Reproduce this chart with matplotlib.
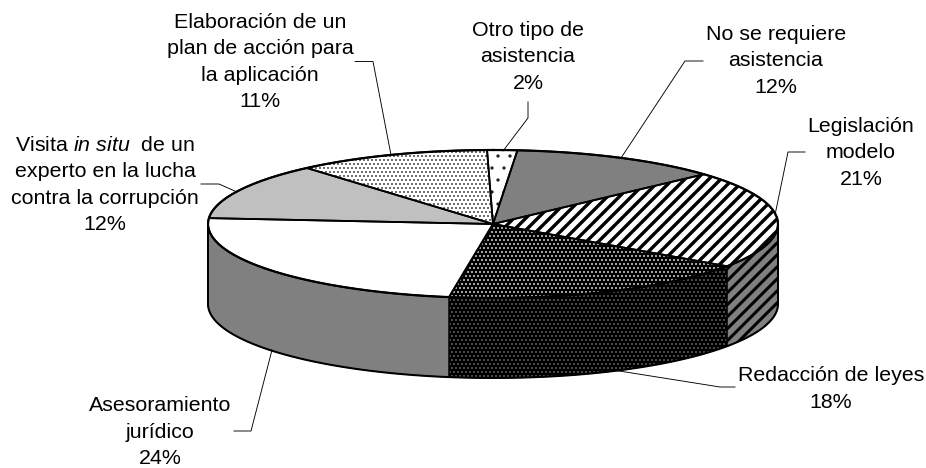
"""Tarta 3D de tipos de asistencia, dibujada a mano sobre ejes en pixeles"""

import matplotlib
matplotlib.use("Agg")
import matplotlib.pyplot as plt
import numpy as np
from matplotlib.patches import Polygon

plt.rcParams["font.family"] = ["Liberation Sans", "DejaVu Sans"]
plt.rcParams["mathtext.fontset"] = "custom"
plt.rcParams["mathtext.rm"] = "Liberation Sans"
plt.rcParams["mathtext.it"] = "Liberation Sans:italic"

# en orden horario desde arriba
labels = [
    "Otro tipo de\nasistencia\n2%",
    "No se requiere\nasistencia\n12%",
    "Legislación\nmodelo\n21%",
    "Redacción de leyes\n18%",
    "Asesoramiento\njurídico\n24%",
    "Visita $\\mathit{in\\ situ}$  de un\nexperto en la lucha\ncontra la corrupción\n12%",
    "Elaboración de un\nplan de acción para\nla aplicación\n11%",
]
# las etiquetas dan los valores redondeados
values = [1.7, 11.9, 21.4, 17.8, 23.8, 12.4, 11.0]
start_deg = -1.2

# (cara, trama, color de trama, ancho de trama)
top_styles = [
    ("white", ".", "#202020", 0.8),
    ("#808080", None, None, 1),
    ("white", "//", "black", 3.4),
    ("black", "...", "white", 0.9),
    ("white", None, None, 1),
    ("#c0c0c0", None, None, 1),
    ("white", "...", "#303030", 1.0),
]
wall_styles = {
    2: ("#808080", "//", "black", 3.0),
    3: ("black", "...", "#808080", 0.8),
    4: ("#808080", None, None, 1),
}

label_pos = [(528, 57), (776, 61), (861, 153), (831, 389), (160, 432), (105, 185), (260, 62)]
leaders = [
    [(528, 102), (528, 118), (503, 151)],
    [(703, 61), (685, 61), (621, 158)],
    [(805, 152), (788, 152), (775, 215)],
    [(735, 387), (720, 387), (613, 370)],
    [(234, 431), (251, 431), (272, 350)],
    [(201, 184), (219, 184), (237, 192)],
    [(355, 61.5), (373, 61.5), (391, 155)],
]

CX, CY, A, B, DEPTH = 493, 224, 285, 74, 80


def rim(a0, a1, dy=0):
    t = np.radians(np.linspace(a0, a1, 120))
    return np.column_stack([CX + A * np.sin(t), CY + dy - B * np.cos(t)])


def add_fill(ax, xy, style):
    face, hatch, hcolor, hwidth = style
    with plt.rc_context({"hatch.linewidth": hwidth}):
        ax.add_patch(Polygon(xy, closed=True, facecolor=face, edgecolor=hcolor or face,
                             hatch=hatch, linewidth=0))


def main():
    fig = plt.figure(figsize=(926 / 72, 468 / 72), dpi=72)
    ax = fig.add_axes([0, 0, 1, 1])
    ax.set_xlim(0, 926)
    ax.set_ylim(468, 0)
    ax.axis("off")

    edges = start_deg + np.cumsum([0] + values) * 3.6

    # pared lateral
    for i, style in wall_styles.items():
        a0, a1 = max(edges[i], 90), min(edges[i + 1], 270)
        xy = np.vstack([rim(a0, a1), rim(a1, a0, DEPTH)])
        add_fill(ax, xy, style)
        ax.plot(*np.vstack([xy, xy[:1]]).T, color="black", lw=1.0)
    ax.plot(*rim(90, 270, DEPTH).T, color="black", lw=2)
    for a in (90, 270):
        ax.plot(*np.vstack([rim(a, a)[0], rim(a, a, DEPTH)[0]]).T, color="black", lw=2)

    # cara superior
    for i, style in enumerate(top_styles):
        xy = np.vstack([[(CX, CY)], rim(edges[i], edges[i + 1])])
        add_fill(ax, xy, style)
        ax.plot(*np.vstack([xy, xy[:1]]).T, color="black", lw=1.8, solid_joinstyle="round")
    ax.plot(*rim(0, 360).T, color="black", lw=2.2)

    for pts in leaders:
        ax.plot(*np.array(pts).T, color="black", lw=0.9)

    for text, (x, y) in zip(labels, label_pos):
        ax.text(x, y, text, ha="center", va="center", fontsize=21.4, color="black",
                linespacing=1.5)

    fig.savefig("out.png", dpi=72)
    plt.close(fig)


if __name__ == "__main__":
    main()
